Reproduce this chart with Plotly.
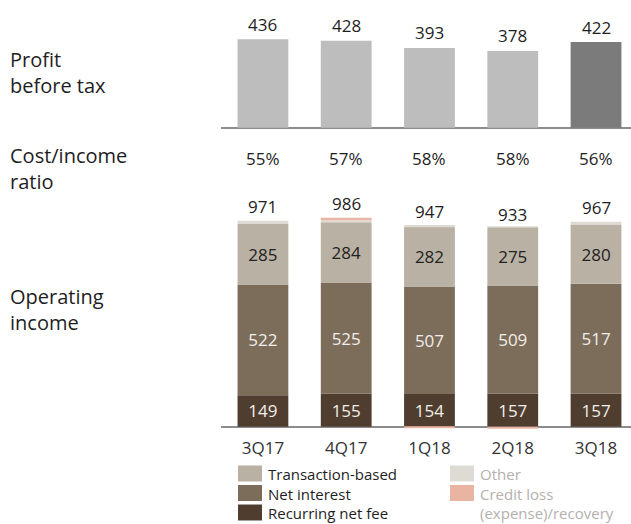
import plotly.graph_objects as go

# Quarterly figures
quarters = ["3Q17", "4Q17", "1Q18", "2Q18", "3Q18"]
profit_before_tax = [436, 428, 393, 378, 422]
cost_income_ratio = ["55%", "57%", "58%", "58%", "56%"]
recurring_net_fee = [149, 155, 154, 157, 157]
net_interest = [522, 525, 507, 509, 517]
transaction_based = [285, 284, 282, 275, 280]
other_income = [15, 10, 8, 2, 13]
credit_loss = [0, 12, -4, -10, 0]
operating_income = [971, 986, 947, 933, 967]

W, H = 631, 524
FONT = "Open Sans"
TEXT = "#1e1e1e"


def py(px):
    """Convert a pixel row (from the top) to paper y."""
    return 1 - px / H


def px_x(px):
    return px / W


fig = go.Figure()

# Profit before tax (top panel); latest quarter highlighted
pbt_colors = ["#bdbdbd"] * (len(quarters) - 1) + ["#7b7b7b"]
fig.add_trace(go.Bar(
    x=quarters, y=profit_before_tax, marker=dict(color=pbt_colors, line=dict(width=0)),
    xaxis="x2", yaxis="y2", width=0.61, showlegend=False, hoverinfo="skip",
))

# Operating income stack (bottom panel)
segments = [
    ("Recurring net fee", recurring_net_fee, "#4f3e30", "#f2eee9", True),
    ("Net interest", net_interest, "#7c6d5b", "#f2eee9", True),
    ("Transaction-based", transaction_based, "#b9b1a3", "#222222", True),
    ("Other", other_income, "#dedad4", "#222222", False),
    ("Credit loss (expense)/recovery", credit_loss, "#e9b4a2", "#222222", False),
]
for name, vals, color, tcolor, labelled in segments:
    fig.add_trace(go.Bar(
        x=quarters, y=vals, name=name,
        marker=dict(color=color, line=dict(width=0)),
        width=0.61,
        text=[str(v) for v in vals] if labelled else None,
        textposition="inside" if labelled else "none",
        insidetextanchor="middle",
        textfont=dict(family=FONT, size=17, color=tcolor),
        showlegend=False, hoverinfo="skip",
        xaxis="x", yaxis="y",
    ))

annotations = []

# Totals above each column
for q, v in zip(quarters, profit_before_tax):
    annotations.append(dict(x=q, y=v, xref="x2", yref="y2", text=str(v), showarrow=False,
                            yshift=15, font=dict(family=FONT, size=17, color=TEXT)))
for q, v in zip(quarters, operating_income):
    annotations.append(dict(x=q, y=v, xref="x", yref="y", text=str(v), showarrow=False,
                            yshift=14, font=dict(family=FONT, size=17, color=TEXT)))

# Cost/income ratio row
for q, r in zip(quarters, cost_income_ratio):
    annotations.append(dict(x=q, y=py(158), xref="x", yref="paper", text=r, showarrow=False,
                            yanchor="middle", font=dict(family=FONT, size=17, color=TEXT)))

# Row headings
row_labels = [("Profit<br>before tax", 73), ("Cost/income<br>ratio", 169), ("Operating<br>income", 309)]
for txt, ypx in row_labels:
    annotations.append(dict(x=px_x(8), y=py(ypx), xref="paper", yref="paper", text=txt,
                            showarrow=False, xanchor="left", yanchor="middle", align="left",
                            font=dict(family=FONT, size=20, color=TEXT)))

# Legend: two columns of swatches, each column's labels set as one text block
LEG_SIZE = 15
LEG_STEP = 1.3 * LEG_SIZE
LEG_MID = 493
legend_columns = [
    (238, ["Transaction-based", "Net interest", "Recurring net fee"],
     ["#b9b1a3", "#7c6d5b", "#4f3e30"], TEXT),
    (450, ["Other", "Credit loss", "(expense)/recovery"],
     ["#dedad4", "#e9b4a2", None], "#b5b0ad"),
]
shapes = []
for xpx, labels, colors, tcolor in legend_columns:
    for i, color in enumerate(colors):
        if color is None:
            continue
        yc = LEG_MID + (i - 1) * LEG_STEP
        shapes.append(dict(type="rect", xref="paper", yref="paper",
                           x0=px_x(xpx), x1=px_x(xpx + 24), y0=py(yc + 8), y1=py(yc - 8),
                           fillcolor=color, line=dict(width=0), layer="above"))
    annotations.append(dict(x=px_x(xpx + 29), y=py(LEG_MID), xref="paper", yref="paper",
                            text="<br>".join(labels), showarrow=False,
                            xanchor="left", yanchor="middle", align="left", borderpad=0,
                            font=dict(family=FONT, size=LEG_SIZE, color=tcolor)))

axis_common = dict(showgrid=False, showticklabels=False, ticks="", showline=False)
fig.update_layout(
    width=W, height=H,
    margin=dict(l=0, r=0, t=0, b=0),
    paper_bgcolor="white", plot_bgcolor="white",
    barmode="relative", bargap=0.39,
    showlegend=False,
    font=dict(family=FONT, color=TEXT),
    xaxis=dict(domain=[221.3 / W, 1], range=[-0.5, 4.42], type="category",
               showgrid=False, showline=False, ticks="", anchor="y",
               tickfont=dict(family=FONT, size=17, color="#333333"),
               ticklabelstandoff=3),
    xaxis2=dict(domain=[221.3 / W, 1], range=[-0.5, 4.42], type="category",
                matches="x", anchor="y2", showticklabels=False, showgrid=False,
                showline=False, ticks=""),
    yaxis=dict(domain=[py(433.1), py(206.2)], range=[-30, 1040], zeroline=True,
               zerolinecolor="#8c8c8c", zerolinewidth=1.5, **axis_common),
    yaxis2=dict(domain=[py(128.5), py(14)], range=[-4, 560], zeroline=True,
                zerolinecolor="#8c8c8c", zerolinewidth=1.5, **axis_common),
    annotations=annotations,
    shapes=shapes,
)

fig.write_html("out.html")
